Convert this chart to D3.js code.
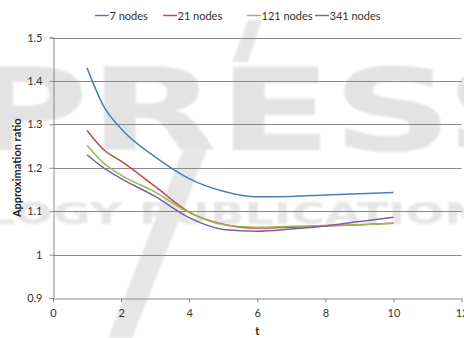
<!DOCTYPE html>
<html>
<head>
<meta charset="utf-8">
<script src="https://cdn.jsdelivr.net/npm/d3@7"></script>
<style>
  html, body { margin: 0; padding: 0; background: #fff; }
  svg { display: block; }
  text { font-family: Lato, "Open Sans", sans-serif; }
</style>
</head>
<body>
<svg id="chart" width="464" height="338"></svg>
<script>
// Approximation ratio over t for different network sizes
const tValues = [1, 1.5, 2, 3, 4, 5, 6, 7, 8, 9, 10];
const seriesNames = ["7 nodes", "21 nodes", "121 nodes", "341 nodes"];
const nodes7   = [1.430, 1.340, 1.290, 1.225, 1.175, 1.146, 1.133, 1.134, 1.137, 1.140, 1.143];
const nodes21  = [1.286, 1.241, 1.215, 1.157, 1.098, 1.070, 1.061, 1.063, 1.066, 1.069, 1.072];
const nodes121 = [1.252, 1.210, 1.183, 1.144, 1.097, 1.069, 1.063, 1.065, 1.067, 1.069, 1.072];
const nodes341 = [1.230, 1.199, 1.175, 1.134, 1.085, 1.058, 1.054, 1.059, 1.066, 1.076, 1.086];
const xTicks = [0, 2, 4, 6, 8, 10, 12];
const yTicks = [0.9, 1.0, 1.1, 1.2, 1.3, 1.4, 1.5];
const colors = ["#4a7ebb", "#be4b48", "#98b954", "#7d60a0"];

const series = [nodes7, nodes21, nodes121, nodes341].map((vals, i) => ({
  name: seriesNames[i],
  color: colors[i],
  points: tValues.map((t, j) => ({ t, v: vals[j] }))
}));

const svg = d3.select("#chart");
const W = 464;

const x = d3.scaleLinear().domain([0, 12]).range([53, W - 2.5]);
const y = d3.scaleLinear().domain([0.9, 1.5]).range([298, 37.5]);

// Publisher watermark behind the chart
const defs = svg.append("defs");
defs.append("filter").attr("id", "soft")
  .append("feGaussianBlur").attr("stdDeviation", 0.8);
const wm = svg.append("g").attr("filter", "url(#soft)");
wm.append("text")
  .attr("x", -34).attr("y", 150)
  .attr("font-weight", "bold")
  .attr("font-size", 114)
  .attr("textLength", 600).attr("lengthAdjust", "spacingAndGlyphs")
  .attr("fill", "#e3e3e3")
  .style("font-family", "'DejaVu Sans'")
  .text("PRESS");
wm.append("text")
  .attr("x", -14).attr("y", 224)
  .attr("font-weight", "bold")
  .attr("font-size", 30)
  .attr("textLength", 530).attr("lengthAdjust", "spacingAndGlyphs")
  .attr("fill", "#e6e6e6")
  .style("font-family", "'DejaVu Sans'")
  .text("LOGY PUBLICATIONS");
wm.append("path")
  .attr("d", "M183,150 L207,150 L132,338 L108,338 Z M232,62 L248,62 L262,20 L248,20 Z")
  .attr("fill", "#e6e6e6");

// Horizontal gridlines
svg.append("g")
  .selectAll("line")
  .data(yTicks.slice(1))
  .join("line")
  .attr("x1", x(0)).attr("x2", x(12))
  .attr("y1", d => Math.round(y(d)) + 0.5).attr("y2", d => Math.round(y(d)) + 0.5)
  .attr("stroke", "#8a8a8a").attr("stroke-width", 1);

// Y axis
const yAxis = d3.axisLeft(y).tickValues(yTicks).tickSize(4).tickPadding(7)
  .tickFormat(d => d === 1 ? "1" : d3.format(".1f")(d));
const gy = svg.append("g").attr("transform", `translate(${Math.round(x(0)) + 0.5},0)`).call(yAxis);
gy.select(".domain").attr("stroke", "#8a8a8a");
gy.selectAll(".tick line").attr("stroke", "#8a8a8a");
gy.selectAll(".tick text").attr("fill", "#333").attr("font-size", 11)
  .style("font-family", "Lato, 'Open Sans', sans-serif");

// X axis
const xAxis = d3.axisBottom(x).tickValues(xTicks).tickSize(4).tickPadding(7).tickSizeOuter(0);
const gx = svg.append("g").attr("transform", `translate(0,${Math.round(y(0.9)) + 0.5})`).call(xAxis);
gx.select(".domain").attr("stroke", "#8a8a8a");
gx.selectAll(".tick line").attr("stroke", "#8a8a8a");
gx.selectAll(".tick text").attr("fill", "#333").attr("font-size", 11)
  .style("font-family", "Lato, 'Open Sans', sans-serif");

// Axis titles
svg.append("text")
  .attr("x", x(6)).attr("y", 335)
  .attr("text-anchor", "middle").attr("font-size", 11).attr("font-weight", "bold")
  .attr("fill", "#222").text("t");
svg.append("text")
  .attr("transform", `translate(21,${y(1.2)}) rotate(-90)`)
  .attr("text-anchor", "middle").attr("font-size", 11).attr("font-weight", "bold")
  .attr("fill", "#222").text("Approximation ratio");

// Smoothed series lines
const line = d3.line()
  .x(d => x(d.t)).y(d => y(d.v))
  .curve(d3.curveMonotoneX);
svg.append("g")
  .selectAll("path")
  .data(series)
  .join("path")
  .attr("d", d => line(d.points))
  .attr("fill", "none")
  .attr("stroke", d => d.color)
  .attr("stroke-width", 1.5);

// Legend
const legendX = [95, 163, 247, 315];
const lg = svg.append("g").selectAll("g").data(series).join("g")
  .attr("transform", (d, i) => `translate(${legendX[i]},15)`);
lg.append("line").attr("x1", 0).attr("x2", 14).attr("y1", 0.5).attr("y2", 0.5)
  .attr("stroke", d => d.color).attr("stroke-width", 1.5);
lg.append("text").attr("x", 14.5).attr("y", 4.5).attr("font-size", 11)
  .attr("fill", "#333").text(d => d.name);
</script>
</body>
</html>
